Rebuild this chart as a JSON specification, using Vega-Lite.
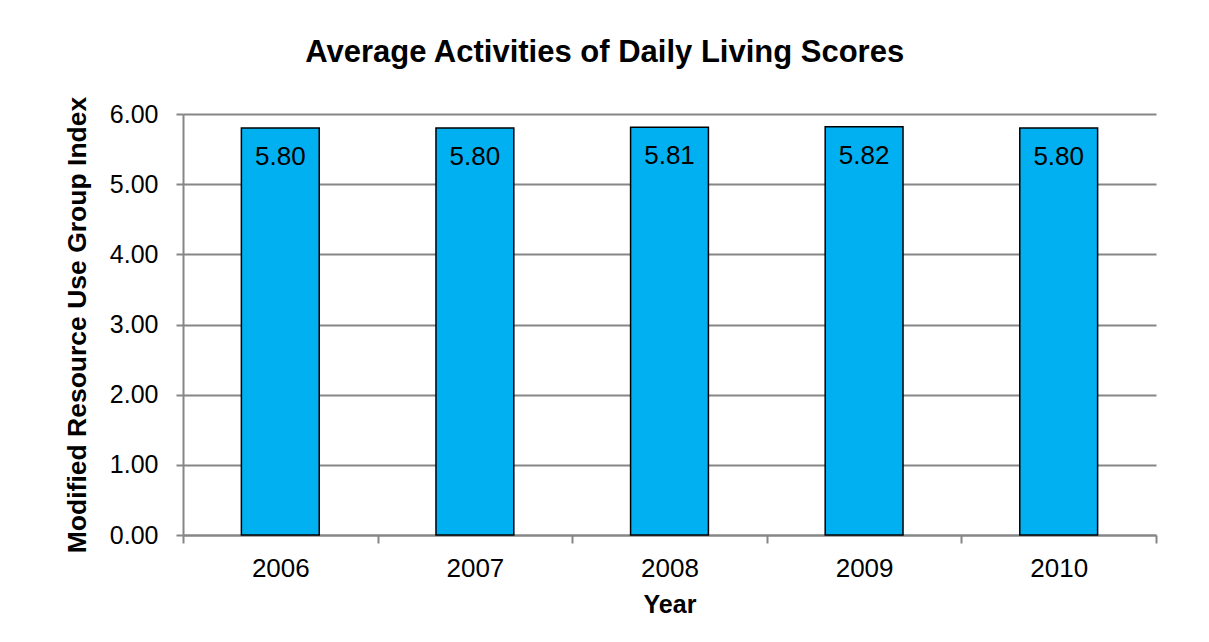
{
  "$schema": "https://vega.github.io/schema/vega-lite/v6.json",
  "autosize": {"type": "none"},
  "padding": {"left": 183, "top": 114, "right": 53, "bottom": 107},
  "width": 973,
  "height": 421,
  "background": "white",
  "title": {
    "text": "Average Activities of Daily Living Scores",
    "font": "Liberation Sans",
    "fontSize": 31,
    "fontWeight": "bold",
    "color": "black",
    "anchor": "middle",
    "frame": "bounds",
    "baseline": "alphabetic",
    "offset": 3,
    "dx": -6
  },
  "data": {
    "values": [
      {"year": "2006", "score": 5.80},
      {"year": "2007", "score": 5.80},
      {"year": "2008", "score": 5.81},
      {"year": "2009", "score": 5.82},
      {"year": "2010", "score": 5.80}
    ]
  },
  "encoding": {
    "x": {
      "field": "year",
      "type": "nominal",
      "scale": {"paddingInner": 0, "paddingOuter": 0},
      "axis": {
        "title": "Year",
        "titleFont": "Liberation Sans",
        "titleFontSize": 25,
        "titleFontWeight": "bold",
        "titleColor": "black",
        "titlePadding": 11,
        "labelAngle": 0,
        "labelFont": "Liberation Sans",
        "labelFontSize": 26,
        "labelColor": "black",
        "labelPadding": 12.5,
        "tickBand": "extent",
        "tickSize": 8,
        "tickColor": "#868686",
        "tickWidth": 2,
        "domainColor": "#868686",
        "domainWidth": 2,
        "grid": false
      }
    },
    "y": {
      "field": "score",
      "type": "quantitative",
      "scale": {"domain": [0, 6], "nice": false},
      "axis": {
        "title": "Modified Resource Use Group Index",
        "titleFont": "Liberation Sans",
        "titleFontSize": 26.5,
        "titleFontWeight": "bold",
        "titleColor": "black",
        "titlePadding": 18,
        "values": [0, 1, 2, 3, 4, 5, 6],
        "format": ".2f",
        "labelFont": "Liberation Sans",
        "labelFontSize": 25,
        "labelColor": "black",
        "labelPadding": 18,
        "tickSize": 7,
        "tickColor": "#868686",
        "tickWidth": 2,
        "domainColor": "#868686",
        "domainWidth": 2,
        "grid": true,
        "gridColor": "#868686",
        "gridWidth": 2
      }
    }
  },
  "layer": [
    {
      "mark": {"type": "bar", "fill": "#00B0F0", "stroke": "black", "strokeWidth": 1.5, "width": {"band": 0.4}}
    },
    {
      "mark": {"type": "text", "font": "Liberation Sans", "fontSize": 26, "color": "black", "baseline": "alphabetic", "dy": 37},
      "encoding": {"text": {"field": "score", "type": "quantitative", "format": ".2f"}}
    }
  ],
  "config": {"view": {"stroke": null}}
}
